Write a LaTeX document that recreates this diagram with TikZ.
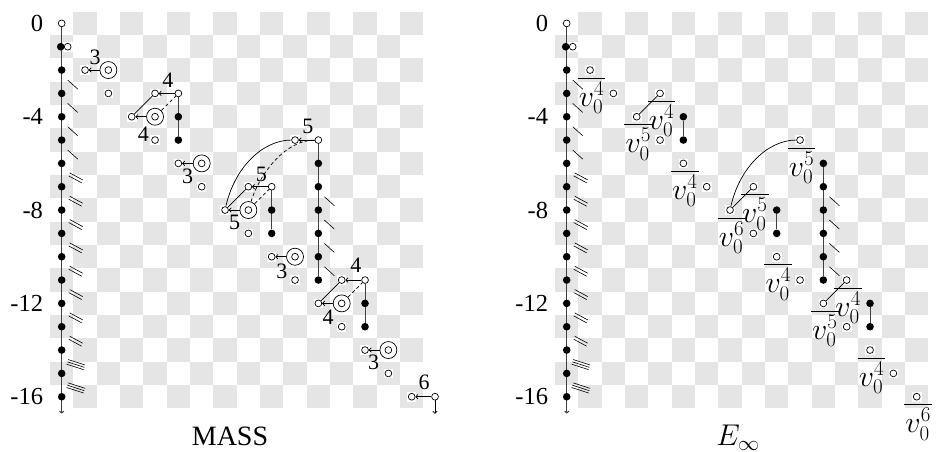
\RequirePackage{fix-cm}
\documentclass[tikz,border=0pt]{standalone}
\usepackage{fontspec}
\setmainfont{Liberation Serif}
\usetikzlibrary{arrows.meta,calc}
\pgfdeclarelayer{bg}
\pgfdeclarelayer{ln}
\pgfsetlayers{bg,ln,main}
\tikzset{
 odot/.style={circle,draw,fill=white,minimum size=6.8pt,inner sep=0pt,line width=0.7pt},
 fdot/.style={circle,fill=black,minimum size=7.6pt,inner sep=0pt},
 dbl/.style={circle,draw,fill=white,minimum size=17pt,inner sep=0pt,line width=0.7pt},
 conn/.style={line width=0.7pt},
 stem/.style={line width=1pt,black!75},
 diff/.style={line width=0.7pt,-{To[length=2.8pt,width=5pt]}},
 lab/.style={font=\fontsize{22}{23}\selectfont,inner sep=0pt},
 den/.style={font=\fontsize{30}{32}\selectfont,inner sep=0pt,anchor=north},
 hatch/.style={line width=0.6pt},
 ylab/.style={font=\fontsize{24.5}{26}\selectfont,inner sep=0pt,anchor=east},
 dsh/.style={line width=0.7pt,dash pattern=on 3.5pt off 2.5pt},
 chk/.style={fill=gray!20},
}
\newcommand\oc[2]{\node[odot] (#1) at (#2) {};
  \begin{pgfonlayer}{bg}\fill[white] ($(#2)+(-4.8pt,-4.8pt)$) rectangle ++(9.6pt,9.6pt);\end{pgfonlayer}}
\newcommand\hone[1]{\draw[hatch] ($(#1)+(6pt,-10pt)$) -- ++(10pt,-9pt);}
\newcommand\htwo[1]{\draw[hatch] ($(#1)+(8pt,-9.5pt)$) -- ++(13pt,-7pt);
  \draw[hatch] ($(#1)+(7pt,-12.5pt)$) -- ++(13pt,-7pt);}
\newcommand\hthree[1]{\draw[hatch] ($(#1)+(6.5pt,-9.5pt)$) -- ++(17pt,-5.5pt);
  \draw[hatch] ($(#1)+(5.7pt,-11.8pt)$) -- ++(17pt,-5.5pt);
  \draw[hatch] ($(#1)+(4.9pt,-14.1pt)$) -- ++(17pt,-5.5pt);}
\newcommand\difl[5]{\draw[diff] (#1) -- (#2);
  \node[lab] at ($(#1)!0.5!(#2)+(#4pt,#5pt)$) {#3};}
\newcommand\fr[3]{\oc{#1}{#2}
  \node[den] (#1d) at ($(#2)+(1.5pt,-11.5pt)$) {$v_0^{#3}$};
  \draw[line width=0.7pt] ($(#1d.north west)+(-1pt,3.5pt)$) -- ($(#1d.north east)+(1pt,3.5pt)$);}
\newcommand\basechart[1]{%
  \begin{pgfonlayer}{bg}
  \foreach \i in {0,...,15}{\foreach \j in {0,...,16}{%
     \pgfmathtruncatemacro\pp{mod(\i+\j,2)}%
     \ifnum\pp=1 \fill[chk] (\i-0.5,\j-0.5) rectangle (\i+0.5,\j+0.5);\fi}}
  \end{pgfonlayer}
  \node[odot] (#1-0-0) at (0,0) {};
  \foreach \j in {2,...,16} {\node[fdot] (#1-0-\j) at (0,\j) {};}
  \node[fdot] (#1-0-1) at ($(0,1)+(-1pt,0)$) {};
  \node[odot] (#1-0-1o) at ($(0,1)+(6pt,0)$) {};
  \begin{pgfonlayer}{bg}\fill[white] ($(0,1)+(1.2pt,-4.8pt)$) rectangle ++(9.6pt,9.6pt);\end{pgfonlayer}
  \coordinate (#1-axend) at (0,16.72);
  \begin{pgfonlayer}{ln}
  \draw[stem,-{To[length=2.8pt,width=5pt]}] (#1-0-0) -- (#1-axend);
  \end{pgfonlayer}
  \foreach \j in {2,...,5} {\hone{0,\j}}
  \foreach \j in {6,...,13} {\htwo{0,\j}}
  \foreach \j in {14,15} {\hthree{0,\j}}
  \node[ylab] (#1-y0) at ($(0,0)+(-18.5pt,0)$) {0};
  \node[ylab] (#1-y4) at ($(0,4)+(-18.5pt,0)$) {-4};
  \node[ylab] (#1-y8) at ($(0,8)+(-18.5pt,0)$) {-8};
  \node[ylab] (#1-y12) at ($(0,12)+(-18.5pt,0)$) {-12};
  \node[ylab] (#1-y16) at ($(0,16)+(-18.5pt,0)$) {-16};
}
\begin{document}
\begin{tikzpicture}[x=1pt,y=1pt]
\useasboundingbox (0,0) rectangle (943,452);
% ---------------- MASS ----------------
\begin{scope}[shift={(61.7pt,428.6pt)},x=23.333pt,y=-23.333pt]
\basechart{L}
\oc{L1-2}{1,2}
\node[dbl] (L2-2) at (2,2) {}; \node[odot] at (2,2) {};
\difl{L2-2}{L1-2}{3}{-1.5}{12.5}
\oc{L2-3}{2,3}
\oc{L4-3}{4,3}
\oc{L5-3}{5,3}
\difl{L5-3}{L4-3}{4}{1.3}{12.7}
\node[fdot] (L5-4) at (5,4) {}; \node[fdot] (L5-5) at (5,5) {};
\oc{L3-4}{3,4}
\node[dbl] (L4-4) at (4,4) {}; \node[odot] at (4,4) {};
\difl{L4-4}{L3-4}{4}{0}{-18}
\draw[conn] (L3-4) -- (L4-3);
\draw[dsh] (L4-4) -- (L5-3);
\oc{L4-5}{4,5}
\oc{L5-6}{5,6}
\node[dbl] (L6-6) at (6,6) {}; \node[odot] at (6,6) {};
\difl{L6-6}{L5-6}{3}{-2.5}{-13.2}
\oc{L6-7}{6,7}
\oc{L7-8}{7,8}
\node[dbl] (L8-8) at (8,8) {}; \node[odot] at (8,8) {};
\difl{L8-8}{L7-8}{5}{-2}{-12.5}
\oc{L8-9}{8,9}
\oc{L8-7}{8,7}
\oc{L9-7}{9,7}
\difl{L9-7}{L8-7}{5}{1.3}{12.8}
\node[fdot] (L9-8) at (9,8) {}; \node[fdot] (L9-9) at (9,9) {};
\oc{L10-5}{10,5}
\oc{L11-5}{11,5}
\difl{L11-5}{L10-5}{5}{1.3}{13.2}
\foreach \j in {6,...,11} {\node[fdot] (L11-\j) at (11,\j) {};}
\foreach \j in {7,...,10} {\hone{11,\j}}
\draw[conn] (L7-8) -- (L8-7);
\draw[dsh] (L8-8) -- (L9-7);
\draw[conn] (L7-8) .. controls (7.4,6.2) and (8.6,5.0) .. (L10-5);
\draw[dsh] (L8-8) .. controls (8.5,6.4) and (9.6,5.0) .. (L11-5);
\oc{L9-10}{9,10}
\node[dbl] (L10-10) at (10,10) {}; \node[odot] at (10,10) {};
\difl{L10-10}{L9-10}{3}{-1.6}{-15}
\oc{L10-11}{10,11}
\oc{L12-11}{12,11}
\oc{L13-11}{13,11}
\difl{L13-11}{L12-11}{4}{2.5}{14.4}
\node[fdot] (L13-12) at (13,12) {}; \node[fdot] (L13-13) at (13,13) {};
\oc{L11-12}{11,12}
\node[dbl] (L12-12) at (12,12) {}; \node[odot] at (12,12) {};
\difl{L12-12}{L11-12}{4}{-2}{-14}
\draw[conn] (L11-12) -- (L12-11);
\draw[dsh] (L12-12) -- (L13-11);
\oc{L12-13}{12,13}
\oc{L13-14}{13,14}
\node[dbl] (L14-14) at (14,14) {}; \node[odot] at (14,14) {};
\difl{L14-14}{L13-14}{3}{-3}{-12.3}
\oc{L14-15}{14,15}
\oc{L15-16}{15,16}
\oc{L16-16}{16,16}
\difl{L16-16}{L15-16}{6}{0.7}{14.8}
\coordinate (L16end) at ($(16,16)+(0,-17pt)$);
\draw[conn,-{To[length=2.8pt,width=5pt]}] (L16-16) -- (L16end);
\begin{pgfonlayer}{ln}
\draw[stem] (L5-3) -- (L5-5);
\draw[stem] (L9-7) -- (L9-9);
\draw[stem] (L11-5) -- (L11-11);
\draw[stem] (L13-11) -- (L13-13);
\end{pgfonlayer}
\end{scope}
% ---------------- E infinity ----------------
\begin{scope}[shift={(566.7pt,428.6pt)},x=23.333pt,y=-23.333pt]
\basechart{R}
\fr{R1-2}{1,2}{4}
\oc{R2-3}{2,3}
\fr{R4-3}{4,3}{4}
\fr{R3-4}{3,4}{5}
\draw[conn] (R3-4) -- (R4-3);
\oc{R4-5}{4,5}
\node[fdot] (R5-4) at (5,4) {}; \node[fdot] (R5-5) at (5,5) {};
\fr{R5-6}{5,6}{4}
\oc{R6-7}{6,7}
\fr{R10-5}{10,5}{5}
\fr{R7-8}{7,8}{6}
\fr{R8-7}{8,7}{5}
\draw[conn] (R7-8) -- (R8-7);
\draw[conn] (R7-8) .. controls (7.4,6.2) and (8.6,5.0) .. (R10-5);
\oc{R8-9}{8,9}
\node[fdot] (R9-8) at (9,8) {}; \node[fdot] (R9-9) at (9,9) {};
\fr{R9-10}{9,10}{4}
\oc{R10-11}{10,11}
\foreach \j in {6,...,11} {\node[fdot] (R11-\j) at (11,\j) {};}
\foreach \j in {7,...,10} {\hone{11,\j}}
\fr{R12-11}{12,11}{4}
\fr{R11-12}{11,12}{5}
\draw[conn] (R11-12) -- (R12-11);
\oc{R12-13}{12,13}
\node[fdot] (R13-12) at (13,12) {}; \node[fdot] (R13-13) at (13,13) {};
\fr{R13-14}{13,14}{4}
\oc{R14-15}{14,15}
\fr{R15-16}{15,16}{6}
\begin{pgfonlayer}{ln}
\draw[stem] (R5-4) -- (R5-5);
\draw[stem] (R9-8) -- (R9-9);
\draw[stem] (R11-6) -- (R11-11);
\draw[stem] (R13-12) -- (R13-13);
\end{pgfonlayer}
\end{scope}
\node[font=\fontsize{28}{30}\selectfont,anchor=base,inner sep=0pt] (mass) at (230,6.5) {MASS};
\node[font=\fontsize{30}{32}\selectfont,anchor=base,inner sep=0pt] (einf) at (738,6) {$E_\infty$};
\end{tikzpicture}
\end{document}
